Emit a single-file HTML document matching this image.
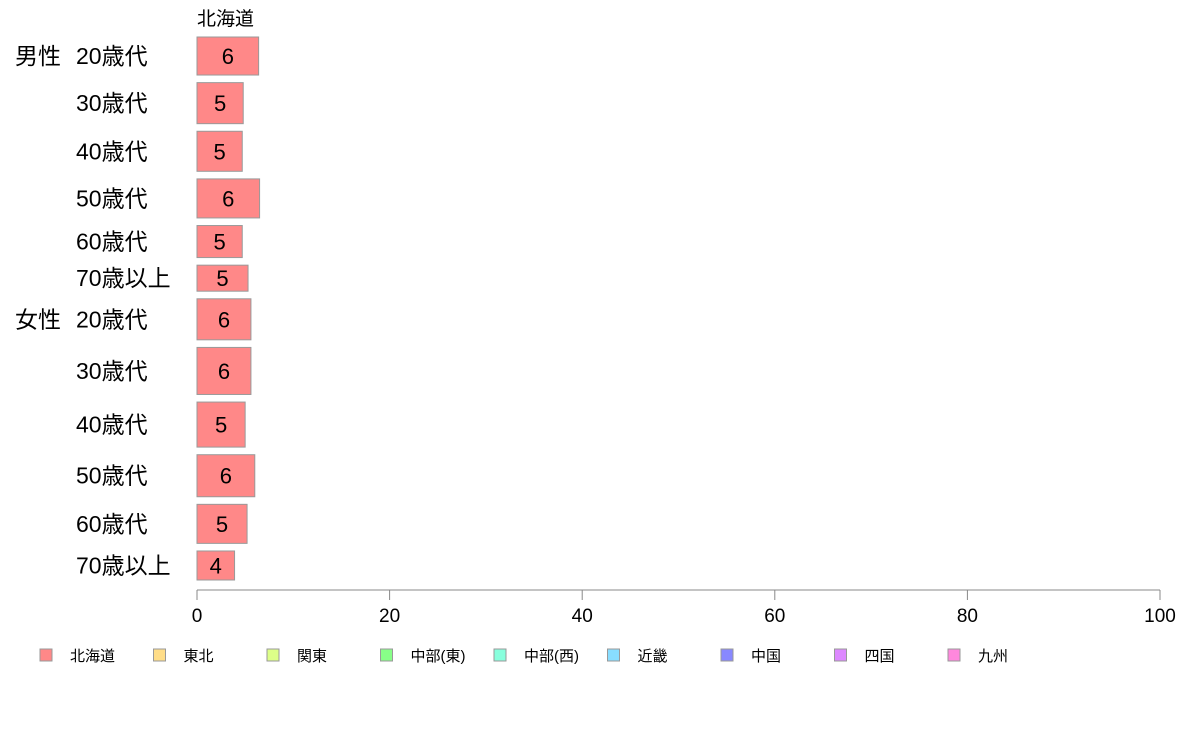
<!DOCTYPE html>
<html><head><meta charset="utf-8">
<style>
body{margin:0;background:#fff;width:1188px;height:736px;overflow:hidden;font-family:"Liberation Sans","Noto Sans CJK JP",sans-serif;}
svg text{font-family:"Liberation Sans","Noto Sans CJK JP",sans-serif;}
</style></head>
<body>
<svg id="chart" width="1188" height="736" xmlns="http://www.w3.org/2000/svg"></svg>
<script>
const groups = ["男性","","","","","","女性","","","","",""];
const ages = ["20歳代","30歳代","40歳代","50歳代","60歳代","70歳以上","20歳代","30歳代","40歳代","50歳代","60歳代","70歳以上"];
const values = [6.4,4.8,4.7,6.5,4.7,5.3,5.6,5.6,5.0,6.0,5.2,3.9];
const valueLabels = ["6","5","5","6","5","5","6","6","5","6","5","4"];
const sampleSizes = [38,41,40,39,32,26,41,47,45,42,39,29];
const xTicks = [0,20,40,60,80,100];
const legendNames = ["北海道","東北","関東","中部(東)","中部(西)","近畿","中国","四国","九州"];
const legendColors = ["#ff8888","#ffdd88","#ddff88","#88ff88","#88ffdd","#88ddff","#8888ff","#dd88ff","#ff88dd"];

const svg = document.getElementById('chart');
const NS = "http://www.w3.org/2000/svg";
const x0 = 197, x1 = 1160, yTop = 37, yBot = 580, gap = 7.6;
const xScale = v => x0 + (x1 - x0) * v / 100;
const totalN = sampleSizes.reduce((a,b)=>a+b,0);
const unitH = (yBot - yTop - gap*(sampleSizes.length-1)) / totalN;
function mk(tag, attrs, text){
  const e = document.createElementNS(NS, tag);
  for (const k in attrs) e.setAttribute(k, attrs[k]);
  if (text !== undefined) e.textContent = text;
  svg.appendChild(e);
  return e;
}
let t = mk('text',{x:197,y:25,'font-size':19,fill:'#000'},'北海道');



let y = yTop;
for (let i=0;i<values.length;i++){
  const h = sampleSizes[i]*unitH;
  const cy = y + h/2;
  const r = mk('rect',{x:x0,y:y,width:xScale(values[i])-x0,height:h,fill:'#ff8888',stroke:'#999','stroke-width':1});
  
  
  const vl = mk('text',{x:(x0+xScale(values[i]))/2,y:cy+8,'font-size':22,'text-anchor':'middle',fill:'#000'},valueLabels[i]);
  
  
  const al = mk('text',{x:76,y:cy+8,'font-size':23,fill:'#000'},ages[i]);
  
  
  if (groups[i]){
    const gl = mk('text',{x:15,y:cy+8,'font-size':23,fill:'#000'},groups[i]);
    
    
  }
  y += h + gap;
}
const ax = mk('line',{x1:x0,y1:590,x2:x1,y2:590,stroke:'#888','stroke-width':1});


xTicks.forEach(v=>{
  const tk = mk('line',{x1:xScale(v),y1:590,x2:xScale(v),y2:600,stroke:'#888','stroke-width':1});
  
  
  const tl = mk('text',{x:xScale(v),y:622,'font-size':19,'text-anchor':'middle',fill:'#000'},String(v));
  
  
});
legendNames.forEach((n,i)=>{
  const lx = 40 + i*113.5;
  const sw = mk('rect',{x:lx,y:649,width:12,height:12,fill:legendColors[i],stroke:'#999','stroke-width':1});
  
  
  const lt = mk('text',{x:lx+30,y:661,'font-size':15,fill:'#000'},n);
  
  
});
</script>
</body></html>
